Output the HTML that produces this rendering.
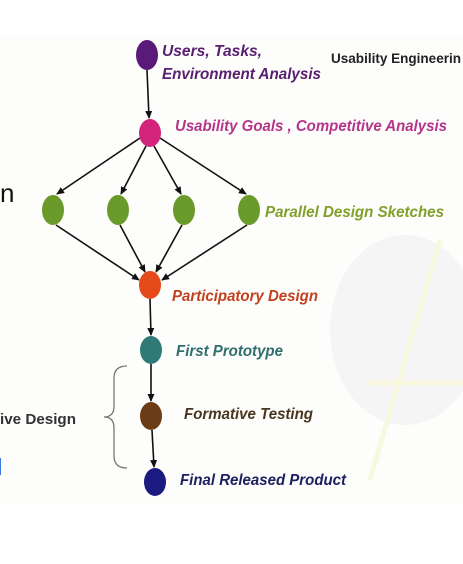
<!DOCTYPE html>
<html><head><meta charset="utf-8"><style>
html,body{margin:0;padding:0;background:#fff;width:463px;height:564px;overflow:hidden}
svg text{font-family:"Liberation Sans",Arial,sans-serif;font-weight:bold;font-style:italic}
</style></head><body>
<svg width="463" height="564" viewBox="0 0 463 564" xmlns="http://www.w3.org/2000/svg">
<defs><marker id="a" markerWidth="8" markerHeight="8" refX="7" refY="4" orient="auto" markerUnits="userSpaceOnUse"><path d="M0,0.5 L8,4 L0,7.5 Z" fill="#111"/></marker></defs>
<rect x="0" y="35" width="463" height="470" fill="#fdfdfb"/>
<ellipse cx="405" cy="330" rx="75" ry="95" fill="#f2f3f5" opacity="0.8"/>
<g stroke="#f8f8dc" stroke-width="5" fill="none" opacity="0.9"><path d="M370 480 L440 240"/><path d="M368 383 L463 383"/></g>
<g stroke="#111" stroke-width="1.6" fill="none">
<line x1="147" y1="70" x2="149" y2="118" marker-end="url(#a)"/>
<line x1="140" y1="138" x2="57" y2="194" marker-end="url(#a)"/>
<line x1="146" y1="146" x2="121" y2="194" marker-end="url(#a)"/>
<line x1="154" y1="146" x2="181" y2="194" marker-end="url(#a)"/>
<line x1="160" y1="138" x2="246" y2="194" marker-end="url(#a)"/>
<line x1="56" y1="225" x2="139" y2="280" marker-end="url(#a)"/>
<line x1="120" y1="225" x2="145" y2="272" marker-end="url(#a)"/>
<line x1="182" y1="225" x2="156" y2="272" marker-end="url(#a)"/>
<line x1="247" y1="225" x2="162" y2="280" marker-end="url(#a)"/>
<line x1="150" y1="299" x2="151" y2="335" marker-end="url(#a)"/>
<line x1="151" y1="364" x2="151" y2="401" marker-end="url(#a)"/>
<line x1="152" y1="430" x2="154" y2="467" marker-end="url(#a)"/>
</g>
<path d="M127 366 Q114 366 114 378 L114 406 Q114 417 104 417 Q114 417 114 428 L114 456 Q114 468 127 468" stroke="#777" stroke-width="1.3" fill="none"/>
<ellipse cx="147" cy="55" rx="11" ry="15" fill="#5a1a7a"/>
<ellipse cx="150" cy="133" rx="11" ry="14" fill="#d1247a"/>
<ellipse cx="53" cy="210" rx="11" ry="15" fill="#6a9a2a"/>
<ellipse cx="118" cy="210" rx="11" ry="15" fill="#6a9a2a"/>
<ellipse cx="184" cy="210" rx="11" ry="15" fill="#6a9a2a"/>
<ellipse cx="249" cy="210" rx="11" ry="15" fill="#6a9a2a"/>
<ellipse cx="150" cy="285" rx="11" ry="14" fill="#e44a1a"/>
<ellipse cx="151" cy="350" rx="11" ry="14" fill="#2f7a76"/>
<ellipse cx="151" cy="416" rx="11" ry="14" fill="#6a3d17"/>
<ellipse cx="155" cy="482" rx="11" ry="14" fill="#1a1a80"/>
<text x="162" y="56" font-size="16" fill="#5a2070" textLength="100" lengthAdjust="spacingAndGlyphs">Users, Tasks,</text>
<text x="162" y="79" font-size="16" fill="#5a2070" textLength="159" lengthAdjust="spacingAndGlyphs">Environment Analysis</text>
<text x="331" y="63" font-size="14" fill="#222" style="font-style:normal" textLength="130" lengthAdjust="spacingAndGlyphs">Usability Engineerin</text>
<text x="175" y="131" font-size="16" fill="#b5348a" textLength="272" lengthAdjust="spacingAndGlyphs">Usability Goals , Competitive Analysis</text>
<text x="0" y="202" font-size="26" fill="#111" style="font-style:normal;font-weight:normal">n</text>
<text x="265" y="217" font-size="16" fill="#7fa02a" textLength="179" lengthAdjust="spacingAndGlyphs">Parallel Design Sketches</text>
<text x="172" y="301" font-size="16" fill="#c2401e" textLength="146" lengthAdjust="spacingAndGlyphs">Participatory Design</text>
<text x="176" y="356" font-size="16" fill="#2f6e6c" textLength="107" lengthAdjust="spacingAndGlyphs">First Prototype</text>
<text x="0" y="424" font-size="15" fill="#333" style="font-style:normal" textLength="76" lengthAdjust="spacingAndGlyphs">ive Design</text>
<text x="184" y="419" font-size="16" fill="#4a3620" textLength="129" lengthAdjust="spacingAndGlyphs">Formative Testing</text>
<text x="180" y="485" font-size="16" fill="#1f2060" textLength="166" lengthAdjust="spacingAndGlyphs">Final Released Product</text>
<line x1="0.5" y1="458" x2="0.5" y2="475" stroke="#3a7ae0" stroke-width="1"/>
</svg>
</body></html>
